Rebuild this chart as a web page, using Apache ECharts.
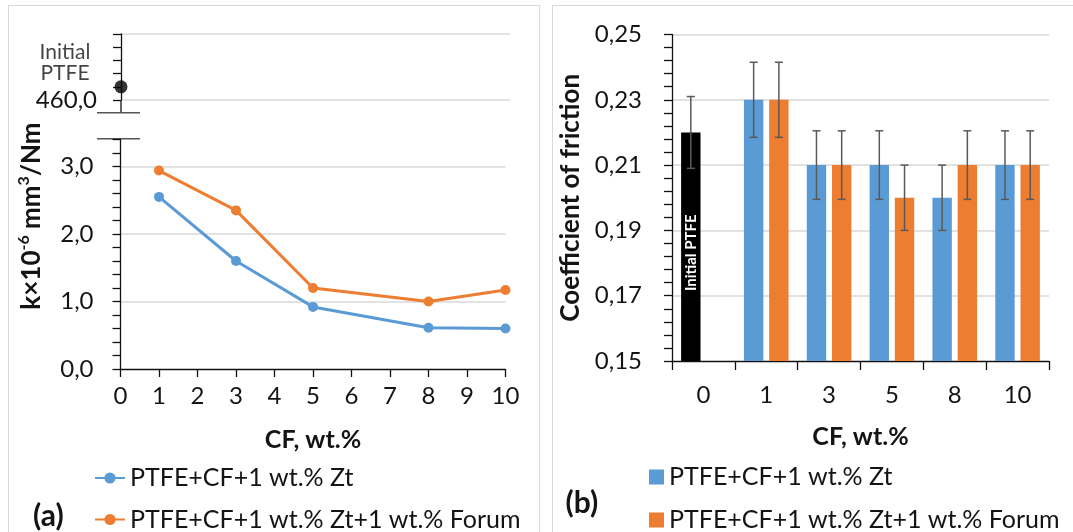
<!DOCTYPE html>
<html><head><meta charset="utf-8">
<script src="https://cdn.jsdelivr.net/npm/echarts@6.0.0/dist/echarts.min.js"></script>
<style>
html,body{margin:0;padding:0;background:#fff;width:1073px;height:532px;overflow:hidden;}
#a{position:absolute;left:0;top:0;width:546px;height:580px;}
#b{position:absolute;left:546px;top:0;width:527px;height:580px;}
.frame{position:absolute;border:1.5px solid #d9d9d9;box-sizing:border-box;}
</style></head><body>
<div class="frame" style="left:8px;top:5px;width:532px;height:560px"></div>
<div class="frame" style="left:552px;top:5px;width:560px;height:560px"></div>
<div id="a"></div><div id="b"></div>
<script>
// ---------- data ----------
const seriesNames = ['PTFE+CF+1 wt.% Zt', 'PTFE+CF+1 wt.% Zt+1 wt.% Forum'];
// (a) specific wear rate, k x 10^-6 mm3/Nm
const wearCF = [1, 3, 5, 8, 10];
const wearZt = [2.55, 1.60, 0.92, 0.61, 0.60];
const wearZtForum = [2.94, 2.35, 1.20, 1.00, 1.17];
const wearInitialCF = 0;
const wearInitialPTFE = 462;
// (b) coefficient of friction
const cofCategories = ['0', '1', '3', '5', '8', '10'];
const cofInitialPTFE = 0.22;
const cofInitialErr = 0.011;
const cofZt = [0.23, 0.21, 0.21, 0.20, 0.21];
const cofZtErr = [0.0115, 0.0105, 0.0105, 0.010, 0.0105];
const cofZtForum = [0.23, 0.21, 0.20, 0.21, 0.21];
const cofZtForumErr = [0.0115, 0.0105, 0.010, 0.0105, 0.0105];

// ---------- style ----------
const FONT = 'Lato, "Liberation Sans", sans-serif';
const TXT = '#141414';
const GRID = '#d9d9d9';
const AX = '#111';
const BLUE = '#5b9bd5', ORANGE = '#ed7d31';
const comma = (v, d) => v.toFixed(d).replace('.', ',');
const axLine = {show: true, lineStyle: {color: AX, width: 1.3}};
const axTick = {show: true, length: 8, lineStyle: {color: AX, width: 1.3}};
const minTick = {show: true, splitNumber: 5, length: 8, lineStyle: {color: AX, width: 1.3}};
const lblStyle = {color: TXT, fontSize: 24, fontFamily: FONT};
const nameStyle = {fontWeight: 'bold', fontSize: 25, color: TXT, fontFamily: FONT};
const legendText = {fontSize: 25, lineHeight: 28, color: TXT, fontFamily: FONT};

// ---------- chart (a) ----------
const chartA = echarts.init(document.getElementById('a'), null, {renderer: 'canvas'});
chartA.setOption({
  animation: false,
  textStyle: {fontFamily: FONT},
  grid: [
    {left: 121, top: 34, width: 389, height: 66},
    {left: 120.5, top: 139.5, width: 385, height: 229.5}
  ],
  xAxis: [
    {gridIndex: 0, type: 'value', min: 0, max: 10, show: false},
    {gridIndex: 1, type: 'value', min: 0, max: 10, interval: 1,
      axisLine: axLine, axisTick: axTick, splitLine: {show: false},
      axisLabel: Object.assign({margin: 15}, lblStyle),
      name: 'CF, wt.%', nameLocation: 'middle', nameGap: 58.5, nameTextStyle: nameStyle}
  ],
  yAxis: [
    {gridIndex: 0, type: 'value', min: 460, max: 470, interval: 10,
      axisLine: axLine, axisTick: axTick, minorTick: minTick,
      splitLine: {show: true, lineStyle: {color: GRID, width: 1.5}},
      axisLabel: Object.assign({margin: 24, formatter: v => v === 460 ? comma(v, 1) : ''}, lblStyle)},
    {gridIndex: 1, type: 'value', min: 0, max: 3.4, interval: 1,
      axisLine: axLine, axisTick: axTick, minorTick: minTick,
      splitLine: {show: true, showMinLine: false, showMaxLine: false, lineStyle: {color: GRID, width: 1.5}},
      axisLabel: Object.assign({margin: 27, showMaxLabel: false,
        formatter: v => Number.isInteger(v) ? comma(v, 1) : ''}, lblStyle)}
  ],
  legend: {
    orient: 'vertical', left: 94, top: 464, padding: 0, itemWidth: 30, itemHeight: 14, itemGap: 13.5,
    data: seriesNames, textStyle: legendText
  },
  series: [
    {type: 'scatter', xAxisIndex: 0, yAxisIndex: 0, silent: true,
      data: [[wearInitialCF, wearInitialPTFE]], symbolSize: 13, itemStyle: {color: '#000'},
      label: {show: true, formatter: 'Initial\nPTFE', position: [-49.5, -17.3], align: 'center',
        verticalAlign: 'middle', fontSize: 21, lineHeight: 21, color: TXT, fontFamily: FONT}},
    {type: 'line', name: seriesNames[0], xAxisIndex: 1, yAxisIndex: 1,
      data: wearCF.map((x, i) => [x, wearZt[i]]), symbol: 'circle', symbolSize: 10,
      lineStyle: {width: 3, color: BLUE}, itemStyle: {color: BLUE}},
    {type: 'line', name: seriesNames[1], xAxisIndex: 1, yAxisIndex: 1,
      data: wearCF.map((x, i) => [x, wearZtForum[i]]), symbol: 'circle', symbolSize: 10,
      lineStyle: {width: 3, color: ORANGE}, itemStyle: {color: ORANGE}}
  ],
  graphic: [
    {type: 'line', shape: {x1: 121, y1: 100, x2: 121, y2: 112}, style: {stroke: AX, lineWidth: 1.3}},
    {type: 'line', shape: {x1: 97, y1: 112.7, x2: 140, y2: 112.7}, style: {stroke: '#555', lineWidth: 1.5}},
    {type: 'line', shape: {x1: 97, y1: 138.7, x2: 140, y2: 138.7}, style: {stroke: '#555', lineWidth: 1.5}},
    {type: 'text', x: 32, y: 216, rotation: Math.PI / 2,
      style: {text: '{b|k×10}{s|-6}{b| mm}{s|3}{b|/Nm}', align: 'center', verticalAlign: 'middle',
        textAlign: 'center', textVerticalAlign: 'middle', fill: TXT,
        rich: {b: {fontSize: 26, fontWeight: 'bold', fontFamily: FONT, lineHeight: 32, fill: TXT},
               s: {fontSize: 16, fontWeight: 'bold', fontFamily: FONT, lineHeight: 16, verticalAlign: 'top', fill: TXT}}}},
    {type: 'text', x: 33, y: 516,
      style: {text: '(a)', fontSize: 30, fontWeight: 'bold', fontFamily: FONT, fill: TXT,
        align: 'left', verticalAlign: 'middle', textAlign: 'left', textVerticalAlign: 'middle'}}
  ]
});

// ---------- chart (b) ----------
const BAR_W = 19.4, BAR_GAP = 0.3;
const errData = [[0, cofInitialPTFE, cofInitialErr, -1]]
  .concat(cofZt.map((v, i) => [i + 1, v, cofZtErr[i], -1]))
  .concat(cofZtForum.map((v, i) => [i + 1, v, cofZtForumErr[i], 1]));
function renderErr(params, api) {
  const ci = api.value(0), v = api.value(1), e = api.value(2), side = api.value(3);
  const off = side * BAR_W * (1 + BAR_GAP) / 2;
  const top = api.coord([ci, v + e]), bot = api.coord([ci, v - e]);
  const x = top[0] + off, cap = 4;
  const style = {stroke: '#595959', lineWidth: 1.5};
  return {type: 'group', children: [
    {type: 'line', shape: {x1: x, y1: top[1], x2: x, y2: bot[1]}, style: style},
    {type: 'line', shape: {x1: x - cap, y1: top[1], x2: x + cap, y2: top[1]}, style: style},
    {type: 'line', shape: {x1: x - cap, y1: bot[1], x2: x + cap, y2: bot[1]}, style: style}
  ]};
}
const chartB = echarts.init(document.getElementById('b'), null, {renderer: 'canvas'});
chartB.setOption({
  animation: false,
  textStyle: {fontFamily: FONT},
  grid: {left: 126, top: 34.5, width: 377, height: 326.5},
  xAxis: {type: 'category', data: cofCategories,
    axisLine: axLine, axisTick: {show: true, length: 9, lineStyle: {color: AX, width: 1.3}},
    axisLabel: Object.assign({margin: 22}, lblStyle),
    name: 'CF, wt.%', nameLocation: 'middle', nameGap: 63.5, nameTextStyle: nameStyle},
  yAxis: {type: 'value', min: 0.15, max: 0.25, interval: 0.02,
    axisLine: axLine, axisTick: axTick, minorTick: minTick,
    splitLine: {show: true, showMinLine: false, lineStyle: {color: GRID, width: 1.5}},
    axisLabel: Object.assign({margin: 30, formatter: v => comma(v, 2)}, lblStyle),
    name: 'Coefficient of friction', nameLocation: 'middle', nameGap: 84,
    nameTextStyle: Object.assign({}, nameStyle, {fontSize: 26})},
  legend: {
    orient: 'vertical', left: 103, top: 463, padding: 0, itemWidth: 15, itemHeight: 15, itemGap: 15, icon: 'rect',
    data: seriesNames, textStyle: legendText
  },
  series: [
    {type: 'bar', name: seriesNames[0], barWidth: BAR_W, barGap: (BAR_GAP * 100) + '%',
      itemStyle: {color: BLUE},
      data: [{value: cofInitialPTFE, itemStyle: {color: '#000'},
        label: {show: true, position: 'inside', rotate: 90, offset: [-6, 0], formatter: 'Initial PTFE', color: '#fff',
          fontSize: 15, fontWeight: 'bold', fontFamily: FONT}}].concat(cofZt)},
    {type: 'bar', name: seriesNames[1], barWidth: BAR_W, barGap: (BAR_GAP * 100) + '%',
      itemStyle: {color: ORANGE},
      data: [null].concat(cofZtForum)},
    {type: 'custom', renderItem: renderErr, data: errData, z: 10, silent: true,
      encode: {x: 0, y: 1}}
  ],
  graphic: [
    {type: 'text', x: 19.5, y: 503,
      style: {text: '(b)', fontSize: 30, fontWeight: 'bold', fontFamily: FONT, fill: TXT,
        align: 'left', verticalAlign: 'middle', textAlign: 'left', textVerticalAlign: 'middle'}}
  ]
});
</script>
</body></html>
